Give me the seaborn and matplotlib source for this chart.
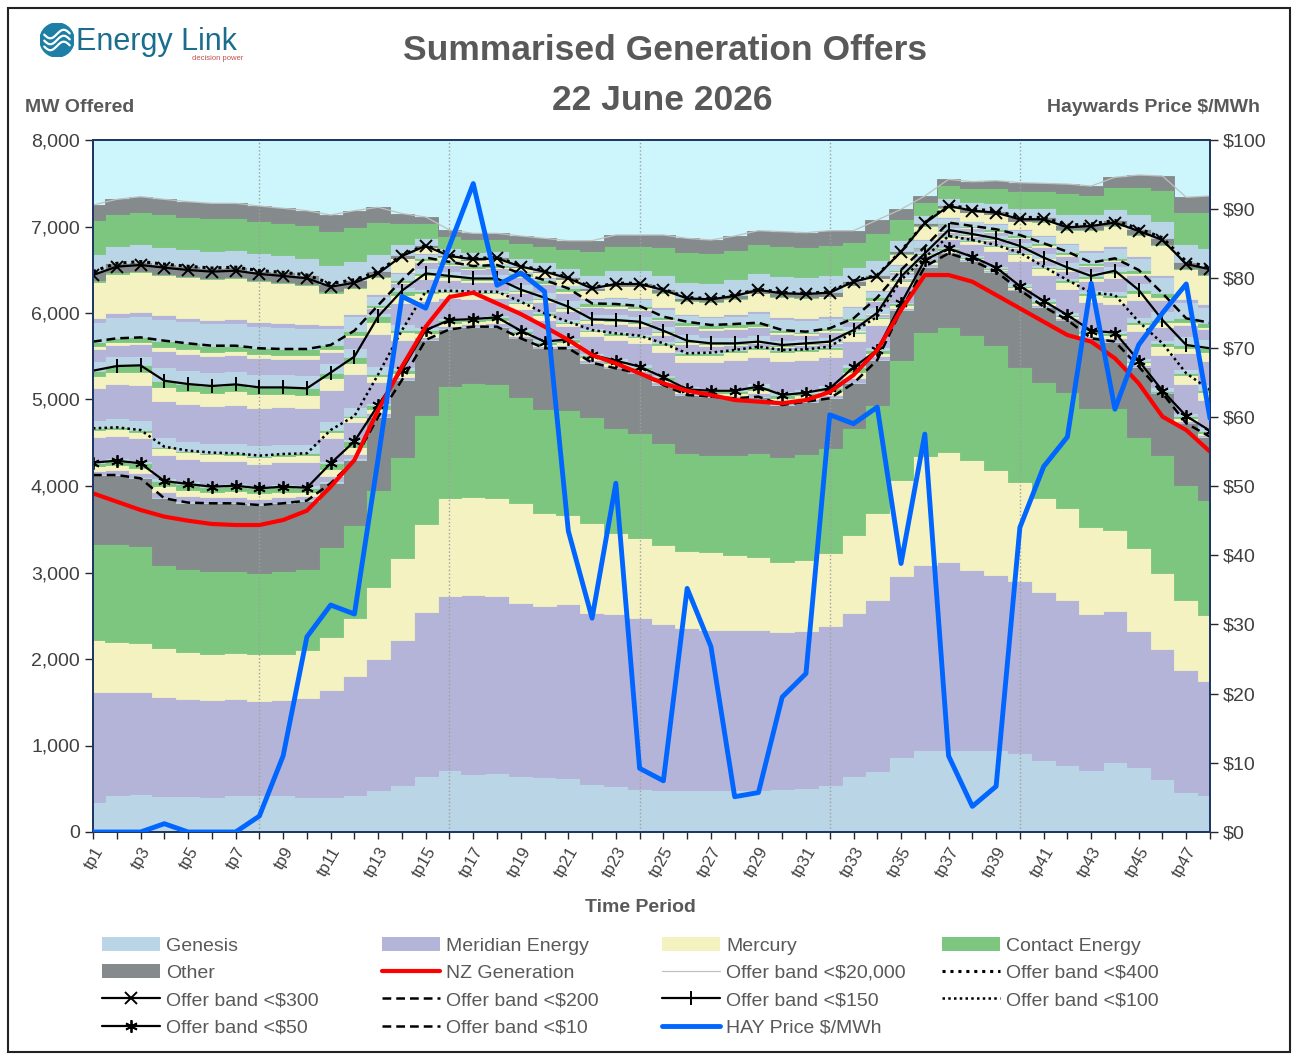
import numpy as np
import matplotlib
matplotlib.use('Agg')
import matplotlib.pyplot as plt
from matplotlib.lines import Line2D
from matplotlib.patches import Patch, Circle, Rectangle
from matplotlib.ticker import FuncFormatter, MultipleLocator
import seaborn as sns

# ---- data ----
periods = [f'tp{i}' for i in range(1, 49)]

# cumulative tops of the lowest (<$10) offer band, by company
genesis_top = [346, 431, 438, 419, 412, 404, 423, 431, 423, 400, 404, 431, 488, 546, 650, 719,
               673, 681, 642, 631, 623, 558, 535, 501, 482, 482, 482, 489, 489, 497, 512, 543,
               651, 705, 863, 952, 952, 952, 944, 913, 829, 778, 713, 813, 748, 617, 459, 428]
meridian_top = [1623, 1623, 1615, 1565, 1542, 1523, 1535, 1519, 1527, 1550, 1642, 1804, 2000, 2219, 2538, 2731,
                2738, 2727, 2642, 2615, 2638, 2527, 2515, 2478, 2401, 2355, 2335, 2339, 2331, 2308, 2320, 2378,
                2532, 2686, 2956, 3087, 3125, 3033, 2975, 2898, 2771, 2686, 2524, 2551, 2328, 2116, 1877, 1742]
mercury_top = [2219, 2200, 2181, 2131, 2085, 2058, 2065, 2058, 2058, 2104, 2258, 2477, 2835, 3173, 3565, 3858,
               3877, 3865, 3800, 3684, 3665, 3569, 3453, 3397, 3314, 3252, 3233, 3206, 3179, 3121, 3148, 3225,
               3437, 3688, 4069, 4350, 4397, 4300, 4185, 4050, 3858, 3740, 3530, 3490, 3280, 2994, 2686, 2513]
contact_top = [3335, 3335, 3304, 3081, 3038, 3012, 3015, 3000, 3015, 3046, 3296, 3554, 3953, 4339, 4821, 5156,
               5187, 5175, 5032, 4887, 4879, 4802, 4667, 4609, 4501, 4378, 4358, 4358, 4378, 4331, 4370, 4443,
               4667, 4936, 5457, 5784, 5841, 5745, 5630, 5380, 5206, 5090, 4898, 4898, 4570, 4358, 4012, 3838]

# cumulative MW offered below each price band
band_10 = [4127, 4127, 4089, 3858, 3808, 3800, 3800, 3780, 3800, 3831, 4031, 4300, 4800, 5225, 5688, 5811,
           5842, 5842, 5707, 5592, 5592, 5425, 5360, 5303, 5168, 5052, 5033, 5014, 5033, 4936, 4975, 5014,
           5187, 5457, 6035, 6536, 6690, 6605, 6478, 6266, 6073, 5919, 5707, 5669, 5380, 5072, 4725, 4570]
band_50 = [4270, 4293, 4262, 4058, 4023, 3992, 4004, 3973, 3992, 3980, 4262, 4516, 4936, 5341, 5803, 5919,
           5930, 5950, 5795, 5669, 5696, 5514, 5449, 5380, 5256, 5117, 5101, 5101, 5149, 5052, 5079, 5129,
           5372, 5572, 6111, 6613, 6746, 6650, 6526, 6312, 6139, 5977, 5795, 5773, 5449, 5101, 4809, 4639]
band_100 = [4667, 4678, 4647, 4455, 4409, 4386, 4378, 4351, 4370, 4378, 4647, 4809, 5290, 5800, 6250, 6258,
            6246, 6246, 6131, 5996, 5899, 5803, 5765, 5738, 5649, 5534, 5542, 5572, 5611, 5572, 5580, 5611,
            5784, 5957, 6381, 6641, 6890, 6844, 6786, 6697, 6536, 6381, 6235, 6208, 5899, 5649, 5303, 5110]
band_150 = [5333, 5387, 5395, 5217, 5179, 5156, 5175, 5140, 5140, 5129, 5311, 5496, 5960, 6258, 6458, 6428,
            6399, 6399, 6270, 6177, 6073, 5927, 5919, 5899, 5795, 5680, 5649, 5649, 5669, 5630, 5649, 5669,
            5803, 6003, 6420, 6690, 6960, 6913, 6863, 6775, 6641, 6526, 6428, 6489, 6266, 5919, 5630, 5592]
band_200 = [5669, 5707, 5718, 5680, 5649, 5622, 5622, 5592, 5584, 5584, 5630, 5796, 6090, 6381, 6641, 6591,
            6543, 6555, 6458, 6381, 6284, 6111, 6104, 6081, 5957, 5899, 5861, 5873, 5888, 5803, 5784, 5823,
            5938, 6180, 6497, 6766, 7045, 7006, 6968, 6902, 6806, 6709, 6582, 6632, 6497, 6228, 5938, 5888]
band_300 = [6439, 6536, 6555, 6524, 6497, 6478, 6489, 6451, 6428, 6401, 6304, 6350, 6458, 6659, 6775, 6659,
            6620, 6632, 6536, 6478, 6401, 6284, 6335, 6335, 6266, 6169, 6158, 6197, 6266, 6228, 6220, 6235,
            6362, 6428, 6709, 7037, 7237, 7183, 7160, 7083, 7083, 6990, 7006, 7045, 6948, 6844, 6566, 6505]
band_400 = [6480, 6575, 6595, 6565, 6540, 6520, 6530, 6490, 6470, 6440, 6340, 6385, 6480, 6670, 6785, 6670,
            6630, 6642, 6546, 6488, 6411, 6294, 6345, 6345, 6276, 6179, 6168, 6207, 6276, 6238, 6230, 6245,
            6372, 6438, 6715, 7045, 7250, 7200, 7180, 7105, 7105, 7015, 7030, 7070, 6975, 6870, 6595, 6530]
band_20000 = [7249, 7314, 7345, 7314, 7287, 7268, 7268, 7237, 7210, 7183, 7133, 7183, 7222, 7150, 7110, 6960,
              6921, 6921, 6890, 6863, 6836, 6836, 6902, 6902, 6902, 6863, 6844, 6890, 6952, 6941, 6929, 6952,
              6952, 7075, 7199, 7353, 7545, 7518, 7530, 7507, 7499, 7491, 7468, 7569, 7595, 7584, 7338, 7353]

nz_generation = [3915, 3819, 3723, 3646, 3599, 3561, 3549, 3549, 3607, 3715, 3992, 4300, 4879, 5380, 5842, 6185,
                 6235, 6111, 5988, 5842, 5688, 5514, 5418, 5303, 5187, 5101, 5052, 4994, 4975, 4956, 4994, 5087,
                 5283, 5572, 6035, 6439, 6439, 6362, 6208, 6054, 5899, 5745, 5669, 5476, 5187, 4802, 4647, 4397]

hay_price = [0, 0, 0, 1.2, 0, 0, 0, 2.3, 11, 28.2, 32.8, 31.5, 54, 77.4, 75.7, 84.7,
             93.7, 79, 80.8, 78.1, 43.5, 30.9, 50.4, 9.2, 7.4, 35.2, 26.8, 5.1, 5.7, 19.5, 22.9, 60.3,
             59, 61.4, 38.8, 57.5, 11, 3.7, 6.6, 44, 52.8, 57.1, 79.3, 61.1, 70.4, 75, 79.2, 59.8]

companies = ['Genesis', 'Meridian Energy', 'Mercury', 'Contact Energy', 'Other']
company_colors = ['#B9D5E6', '#B4B4D8', '#F4F2C0', '#7CC67F', '#858B8C']

# rough company split of each upper band (Genesis, Meridian, Mercury, Contact, Other)
band_mix = [
    [0.10, 0.25, 0.35, 0.30, 0.00],   # <$10  -> <$50
    [0.08, 0.67, 0.20, 0.05, 0.00],   # <$50  -> <$100
    [0.15, 0.55, 0.20, 0.10, 0.00],   # <$100 -> <$150
    [0.35, 0.40, 0.10, 0.15, 0.00],   # <$150 -> <$200
    [0.30, 0.05, 0.55, 0.02, 0.08],   # <$200 -> <$300
    [0.00, 0.00, 0.00, 0.00, 1.00],   # <$300 -> <$400
    [0.27, 0.00, 0.00, 0.50, 0.23],   # <$400 -> <$20,000
]

# ---- figure ----
sns.set_style('white')
plt.rcParams['font.family'] = ['Liberation Sans', 'DejaVu Sans']
GREY_TXT = '#595959'

W, H = 1294, 1057
fig = plt.figure(figsize=(W / 100, H / 100), dpi=100)
ax = fig.add_axes([93 / W, 1 - 832 / H, (1210 - 93) / W, (832 - 140) / H])
ax.set_facecolor('#CCF5FC')

x = np.arange(len(periods))

bounds = [np.zeros(len(x)), np.array(genesis_top), np.array(meridian_top),
          np.array(mercury_top), np.array(contact_top), np.array(band_10)]
for k in range(5):
    ax.fill_between(x, bounds[k], bounds[k + 1], step='mid', color=company_colors[k],
                    lw=0.6, edgecolor=company_colors[k], zorder=1)

bands = [band_10, band_50, band_100, band_150, band_200, band_300, band_400, band_20000]
for j, mix in enumerate(band_mix):
    lo = np.array(bands[j], dtype=float)
    inc = np.array(bands[j + 1], dtype=float) - lo
    cum = lo.copy()
    for k, share in enumerate(mix):
        if share == 0:
            continue
        top = cum + inc * share
        ax.fill_between(x, cum, top, step='mid', color=company_colors[k],
                        lw=0.6, edgecolor=company_colors[k], zorder=1)
        cum = top

for g in [7, 15, 23, 31, 39]:
    ax.axvline(g, color='#A0A0A0', lw=1, ls=':', zorder=2)

line_styles = {
    'Offer band <$20,000': (band_20000, dict(color='#C0C0C0', lw=0.9, ls='-')),
    'Offer band <$400': (band_400, dict(color='black', lw=2.2, ls=(0, (1, 1.6)))),
    'Offer band <$300': (band_300, dict(color='black', lw=1.6, ls='-', marker='x', ms=8, mew=1.4, mec='black')),
    'Offer band <$200': (band_200, dict(color='black', lw=1.8, ls=(0, (3.5, 2)))),
    'Offer band <$150': (band_150, dict(color='black', lw=1.6, ls='-', marker='|', ms=10, mew=1.4, mec='black')),
    'Offer band <$100': (band_100, dict(color='black', lw=1.8, ls=(0, (1, 1.3)))),
    'Offer band <$50': (band_50, dict(color='black', lw=1.6, ls='-', marker=(6, 2, 0), ms=9, mew=1.3, mec='black')),
    'Offer band <$10': (band_10, dict(color='black', lw=1.8, ls=(0, (3.5, 2)))),
}
for name, (vals, kw) in line_styles.items():
    sns.lineplot(x=x, y=vals, ax=ax, zorder=3, legend=False, **kw)

sns.lineplot(x=x, y=nz_generation, ax=ax, color='#FF0000', lw=3, zorder=4, legend=False)

ax.set_xlim(0, len(x) - 1)
ax.set_ylim(0, 8000)
ax.yaxis.set_major_locator(MultipleLocator(1000))
ax.yaxis.set_major_formatter(FuncFormatter(lambda v, p: f'{v:,.0f}'))
ax.set_xticks(x)
ax.set_xticklabels([p if i % 2 == 0 else '' for i, p in enumerate(periods)],
                   rotation=60, ha='right', rotation_mode='anchor', fontsize=12, color='#404040')
ax.tick_params(axis='y', labelsize=14, labelcolor='#404040', direction='out', length=6, width=1, left=True)
ax.tick_params(axis='x', direction='out', length=5, width=1, bottom=True, pad=4)
ax.set_xlabel('')
ax.set_ylabel('')

ax2 = ax.twinx()
sns.lineplot(x=x, y=hay_price, ax=ax2, color='#0066FF', lw=3.5, zorder=5, legend=False)
ax2.set_ylim(0, 100)
ax2.yaxis.set_major_locator(MultipleLocator(10))
ax2.yaxis.set_major_formatter(FuncFormatter(lambda v, p: f'${v:.0f}'))
ax2.tick_params(axis='y', labelsize=14, labelcolor='#404040', direction='out', length=6, width=1, right=True)
ax2.set_ylabel('')
ax2.set_xlim(0, len(x) - 1)

for a in (ax, ax2):
    for s in a.spines.values():
        s.set_color('#1F3864')
        s.set_linewidth(1.4)
        s.set_visible(True)

# ---- titles and axis captions ----
fig.text(665 / W, 1 - 50 / H, 'Summarised Generation Offers', ha='center', va='center',
         fontsize=25.5, fontweight='bold', color=GREY_TXT)
fig.text(662 / W, 1 - 100 / H, '22 June 2026', ha='center', va='center',
         fontsize=25.5, fontweight='bold', color=GREY_TXT)
fig.text(25 / W, 1 - 108 / H, 'MW Offered', ha='left', va='center',
         fontsize=14, fontweight='bold', color=GREY_TXT)
fig.text(1260 / W, 1 - 108 / H, 'Haywards Price $/MWh', ha='right', va='center',
         fontsize=14, fontweight='bold', color=GREY_TXT)
fig.text(640 / W, 1 - 908 / H, 'Time Period', ha='center', va='center',
         fontsize=14, fontweight='bold', color=GREY_TXT)

# ---- logo ----
lax = fig.add_axes([40 / W, 1 - 57 / H, 34 / W, 34 / H])
lax.set_xlim(-1, 1)
lax.set_ylim(-1, 1)
lax.set_aspect('equal')
lax.axis('off')
lax.add_patch(Circle((0, 0), 1, color='#1E7FA6'))
t = np.linspace(-0.75, 0.75, 50)
for off in (-0.35, 0.0, 0.35):
    lax.plot(t, off + 0.25 * np.sin(t * 4), color='white', lw=1.6)
fig.text(76 / W, 1 - 42 / H, 'Energy Link', ha='left', va='center', fontsize=22,
         color='#1B6D8E')
fig.text(243 / W, 1 - 58 / H, 'decision power', ha='right', va='center', fontsize=5.5,
         color='#C0504D')

# ---- legend ----
h = {c: Patch(facecolor=col, edgecolor='none') for c, col in zip(companies, company_colors)}
h['NZ Generation'] = Line2D([], [], color='#FF0000', lw=3)
h['HAY Price $/MWh'] = Line2D([], [], color='#0066FF', lw=3.5)
for name, (vals, kw) in line_styles.items():
    h[name] = Line2D([], [], **kw)

columns = [
    ['Genesis', 'Other', 'Offer band <$300', 'Offer band <$50'],
    ['Meridian Energy', 'NZ Generation', 'Offer band <$200', 'Offer band <$10'],
    ['Mercury', 'Offer band <$20,000', 'Offer band <$150', 'HAY Price $/MWh'],
    ['Contact Energy', 'Offer band <$400', 'Offer band <$100'],
]
col_x = [102, 382, 662, 942]
for cx, names in zip(col_x, columns):
    fig.legend([h[n] for n in names], names, loc='upper left',
               bbox_to_anchor=(cx / W, 1 - 937 / H), frameon=False, fontsize=14,
               labelcolor=GREY_TXT, handlelength=3.0, handletextpad=0.3,
               labelspacing=0.5, borderpad=0, borderaxespad=0)

fig.patches.append(Rectangle((8 / W, 5 / H), (1290 - 8) / W, (1049 - 5) / H,
                             transform=fig.transFigure, fill=False, ec='#222222', lw=1.5))

fig.savefig('out.png', dpi=100)
